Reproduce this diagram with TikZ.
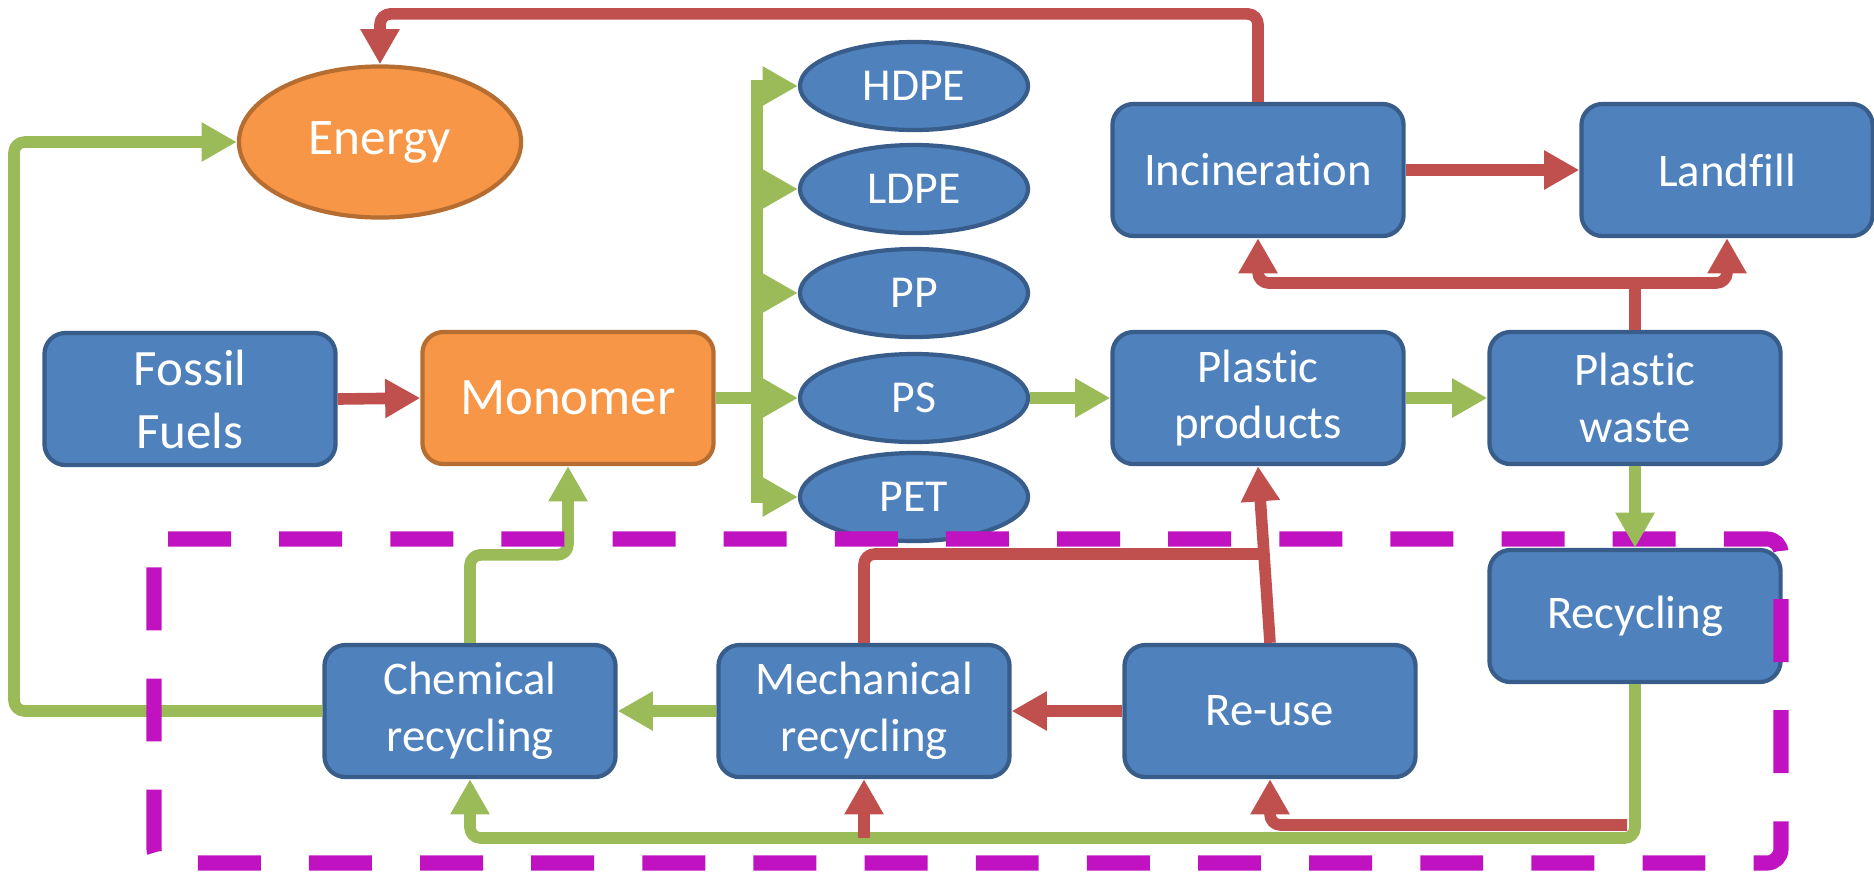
\documentclass[tikz,border=0pt]{standalone}
\usepackage{fontspec}
\setmainfont{Carlito}[Ligatures={NoCommon,NoContextual}]
\usetikzlibrary{arrows.meta,shapes.geometric}
\definecolor{boxblue}{HTML}{4F81BD}
\definecolor{boxedge}{HTML}{385D8A}
\definecolor{warmfill}{HTML}{F79646}
\definecolor{warmedge}{HTML}{B66D31}
\definecolor{flowgreen}{HTML}{9BBB59}
\definecolor{flowred}{HTML}{C0504D}
\definecolor{loopmagenta}{HTML}{C012C0}

\begin{document}
\begin{tikzpicture}[line join=round,x=0.01cm,y=-0.01cm,
	box/.style={draw=boxedge,fill=boxblue,line width=1.2pt,rounded corners=6pt,minimum width=2.91cm,minimum height=1.32cm,inner sep=0pt,text=white,align=center,font=\fontsize{13.3}{16.2}\selectfont},
	warmbox/.style={box,draw=warmedge,fill=warmfill,font=\fontsize{15}{18.3}\selectfont},
	polymer/.style={ellipse,draw=boxedge,fill=boxblue,line width=1.2pt,minimum width=2.28cm,minimum height=0.88cm,inner sep=0pt,text=white,font=\fontsize{13}{15}\selectfont},
	gline/.style={draw=flowgreen,line width=3.3pt,rounded corners=3pt},
	rline/.style={draw=flowred,line width=3.3pt,rounded corners=3pt},
	garrow/.style={gline,-{Triangle[length=10pt,width=10.5pt]}},
	rarrow/.style={rline,-{Triangle[length=10pt,width=10.5pt]}},
	loopline/.style={draw=loopmagenta,line width=4.3pt,dash pattern=on 17.9pt off 13.7pt,rounded corners=4pt}]
	\useasboundingbox (0,0) rectangle (1874,872);
	\node[ellipse,draw=warmedge,fill=warmfill,line width=1.2pt,minimum width=2.82cm,minimum height=1.51cm,inner sep=0pt,text=white,font=\fontsize{14.6}{17}\selectfont] (energy) at (380,142) {Energy};
	\node[box,font=\fontsize{14.5}{17.9}\selectfont] (fossil) at (190,399) {Fossil\\Fuels};
	\node[warmbox] (mono) at (568,398) {Monomer};
	\node[polymer] (hdpe) at (914,86) {HDPE};
	\node[polymer] (ldpe) at (914,189) {LDPE};
	\node[polymer] (pp) at (914,293) {PP};
	\node[polymer] (ps) at (914,398) {PS};
	\node[polymer] (pet) at (914,497) {PET};
	\node[box] (incin) at (1258,170) {Incineration};
	\node[box] (land) at (1727,170) {Landfill};
	\node[box] (prod) at (1258,398) {Plastic\\products};
	\node[box] (waste) at (1635,398) {Plastic\\waste};
	\node[box] (recyc) at (1635,616) {Recycling};
	\node[box] (chem) at (470,711) {Chemical\\recycling};
	\node[box] (mech) at (864,711) {Mechanical\\recycling};
	\node[box] (reuse) at (1270,711) {Re-use};
	\coordinate (trunk) at (757,398);
	\coordinate (lft) at (14,711);
	\coordinate (fork) at (1635,283);
	\coordinate (gbot) at (1635,838);
	\coordinate (rbot) at (1627,825);
	\coordinate (jn) at (1264,554);
	\draw[rarrow] (fossil.east) -- (mono.west);
	\draw[gline] (mono.east) -- (trunk);
	\draw[gline,line cap=rect] (trunk |- hdpe) -- (trunk |- pet);
	\foreach \p in {hdpe,ldpe,pp,ps,pet}
		\draw[garrow] (trunk |- \p) -- (\p.west);
	\draw[garrow] (ps.east) -- (prod.west);
	\draw[garrow] (prod.east) -- (waste.west);
	\draw[rline] (waste.north) -- (fork);
	\draw[rarrow] (fork) -| (incin.south);
	\draw[rarrow] (fork) -| (land.south);
	\draw[rarrow] (incin.east) -- (land.west);
	\draw[rarrow] (incin.north) -- ++(0,-88) -| (energy.north);
	\draw[garrow] (chem.west) -- (lft) |- (energy.west);
	\draw[garrow] (chem.north) -- ++(0,-88) -| (mono.south);
	\draw[garrow] (mech.west) -- (chem.east);
	\draw[rarrow] (reuse.west) -- (mech.east);
	\draw[rarrow] (reuse.north) -- (prod.south);
	\draw[rline] (mech.north) |- (jn);
	\draw[rarrow] (rbot) -| (reuse.south);
	\draw[garrow] (recyc.south) -- (gbot) -| (chem.south);
	\draw[rarrow] (mech.south |- gbot) -- (mech.south);
	\draw[loopline] (154,539) -- (1781,539) -- (1781,863) -- (154,863) -- cycle;
	\draw[garrow] (waste.south) -- (recyc.north);
\end{tikzpicture}
\end{document}
